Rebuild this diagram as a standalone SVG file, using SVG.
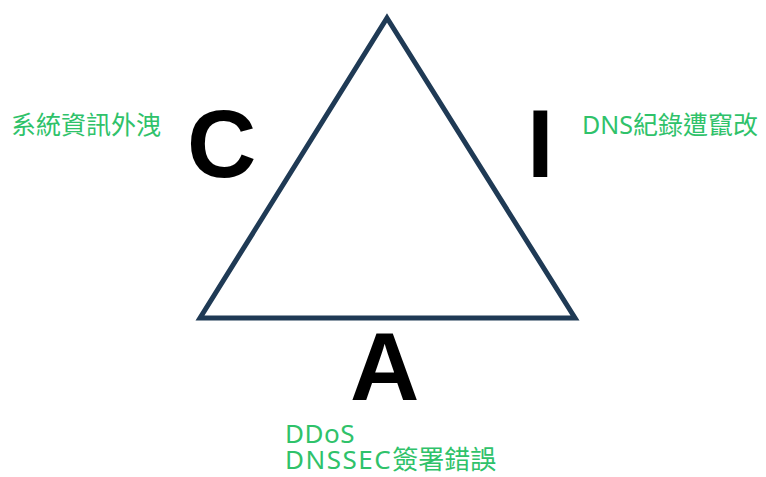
<svg xmlns="http://www.w3.org/2000/svg" width="766" height="477" viewBox="0 0 766 477">
<style>
.lbl{font-family:"Noto Sans","Noto Sans CJK TC",sans-serif;font-size:25px;fill:#2fc26a}
.big{font-family:"Liberation Sans",Arial,sans-serif;font-weight:bold;font-size:96px;fill:#000}
</style>
<rect width="766" height="477" fill="#fff"/>
<g id="connectors">
<path id="triangle" d="M387,18 L575,318 L200,318 Z" fill="none" stroke="#1f3a55" stroke-width="5" stroke-linejoin="miter"/>
</g>
<g id="node-C">
<text class="big" x="187" y="177">C</text>
<text class="lbl" x="11" y="134">系統資訊外洩</text>
</g>
<g id="node-I">
<text class="big" x="527" y="177">I</text>
<text class="lbl" x="582" y="134">DNS紀錄遭竄改</text>
</g>
<g id="node-A">
<text class="big" x="350" y="400">A</text>
<text class="lbl" x="285" y="443" style="font-size:26px"><tspan letter-spacing="0.5">DDoS</tspan><tspan x="285" dy="26" letter-spacing="1.5">DNSSEC</tspan><tspan>簽署錯誤</tspan></text>
</g>
</svg>
